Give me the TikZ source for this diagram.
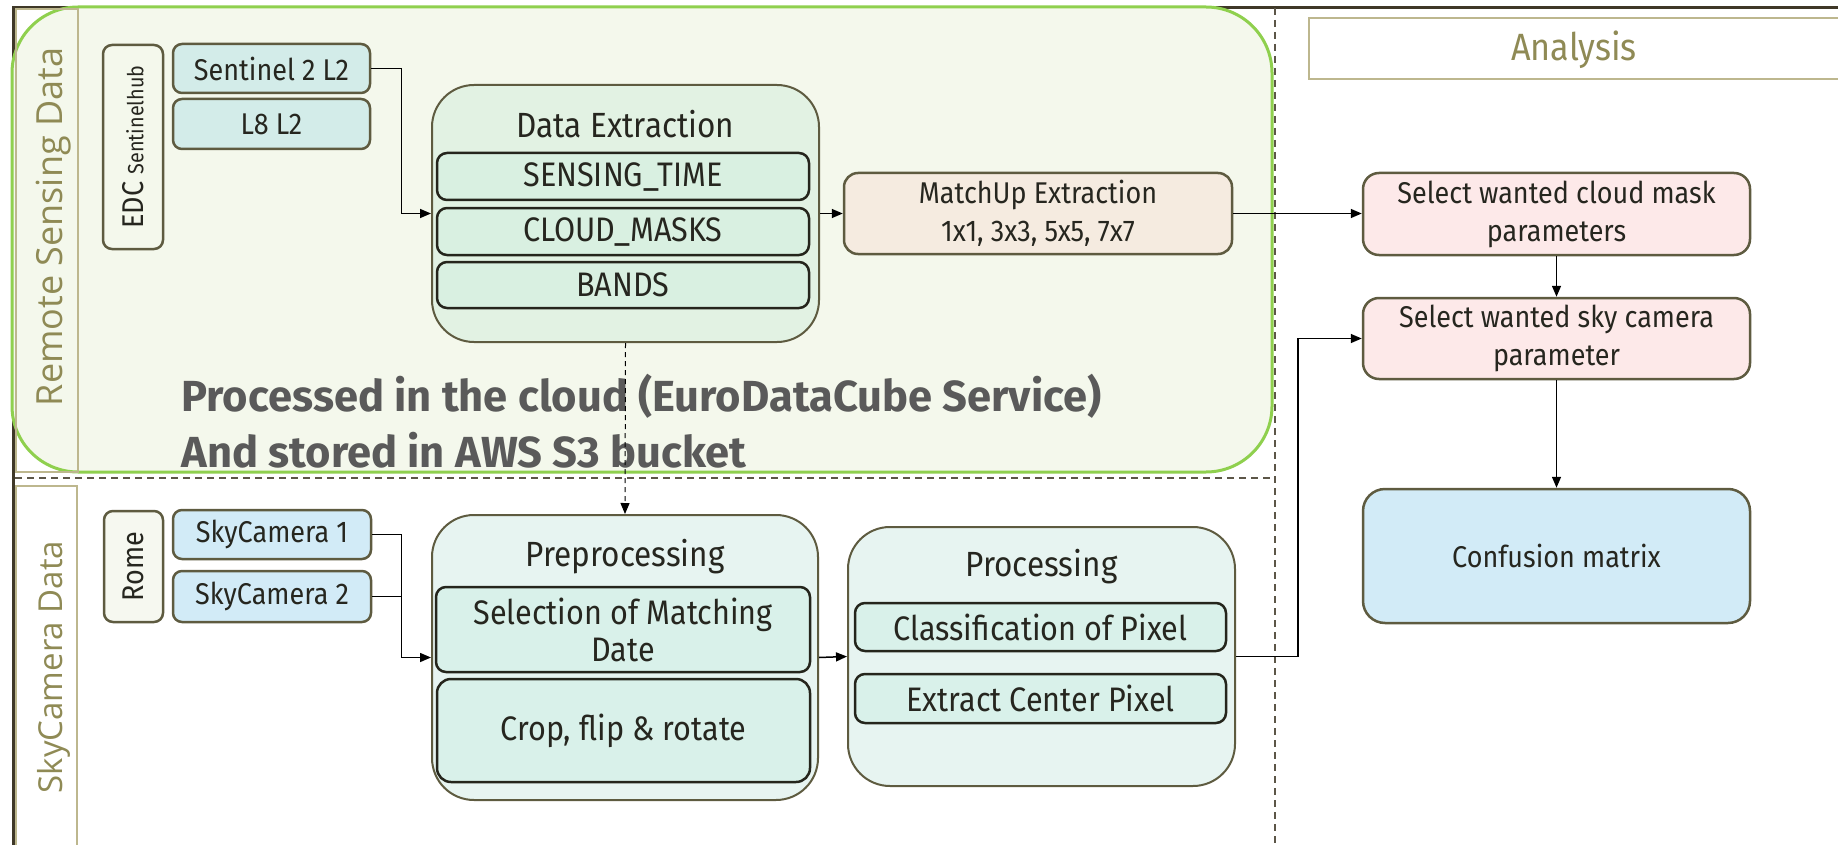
\documentclass[tikz,border=0pt]{standalone}
\usepackage{fontspec}
\setmainfont{Fira Sans}
\newfontfamily\boxfont[FakeStretch=0.9]{Fira Sans}
\newfontfamily\lanefont{Open Sans}
\usetikzlibrary{arrows.meta,positioning,calc}
\definecolor{framedark}{HTML}{3F3828}
\definecolor{laneline}{HTML}{BDB78E}
\definecolor{lanetext}{HTML}{8F8A55}
\definecolor{cloudline}{HTML}{8FD04E}
\definecolor{cloudfill}{HTML}{F4F8EC}
\definecolor{boxline}{HTML}{5E5B40}
\definecolor{itemline}{HTML}{25251C}
\definecolor{txt}{HTML}{26261F}
\definecolor{note}{HTML}{5A5A5A}
\definecolor{satfill}{HTML}{D3ECE9}
\definecolor{camfill}{HTML}{D2EBF7}
\definecolor{extfill}{HTML}{E2F2E3}
\definecolor{extitem}{HTML}{D9F0E1}
\definecolor{prefill}{HTML}{E7F4F1}
\definecolor{preitem}{HTML}{D9F1EA}
\definecolor{matchfill}{HTML}{F5EBE0}
\definecolor{pickfill}{HTML}{FDE9E9}
\definecolor{sitefill}{HTML}{F6F8F0}
\tikzset{
  lane/.style={draw=laneline, line width=1.5pt, inner sep=0pt},
  lanetitle/.style={text=lanetext, rotate=90, font=\lanefont\fontsize{34}{34}\selectfont},
  src/.style={draw=boxline, line width=2.5pt, rounded corners=9pt, inner sep=0pt,
    text=txt, font=\boxfont\fontsize{30}{38}\selectfont},
  stage/.style={draw=boxline, line width=2pt, rounded corners=42pt, inner sep=0pt},
  title/.style={text=txt, font=\boxfont\fontsize{35}{35}\selectfont},
  item/.style={draw=itemline, line width=2.5pt, rounded corners=10pt, inner sep=0pt,
    text=txt, align=center, font=\boxfont\fontsize{34}{37}\selectfont},
  pick/.style={src, fill=pickfill, align=center, minimum width=387pt, rounded corners=16pt},
  flow/.style={-{Triangle[length=11pt,width=9pt]}, line width=1.5pt},
  sep/.style={draw=framedark!85, line width=1.5pt, dash pattern=on 7pt off 5pt},
}

\begin{document}
\begin{tikzpicture}[x=1pt,y=-1pt]
  \useasboundingbox (0,0) rectangle (1838,845);
  \draw[framedark, line width=3pt] (13,847) -- (13,8) -- (1840,8);
  \draw[draw=cloudline, fill=cloudfill, line width=3pt, rounded corners=66pt] (12,7) rectangle (1272,472);
  \draw[sep] (1275,8) -- (1275,847);
  \draw[sep] (15,478) -- (1275,478);

  % lanes
  \node[lane, minimum width=62pt, minimum height=463pt] (rslane) at (47,240.5) {};
  \node[lanetitle, font=\lanefont\fontsize{36}{36}\selectfont] (rstitle) at (54,227) {Remote Sensing Data};
  \node[lane, minimum width=61pt, minimum height=362pt] (sclane) at (46.5,667) {};
  \node[lanetitle, font=\lanefont\fontsize{33}{33}\selectfont] (sctitle) at (54,667) {SkyCamera Data};
  \node[lane, minimum width=533pt, minimum height=61pt] (anlane) at (1575.5,48.5) {};
  \node[text=lanetext, font=\boxfont\fontsize{38}{38}\selectfont] (antitle) at (1574,50) {Analysis};

  % sources
  \node[src, fill=cloudfill, rotate=90, minimum width=204pt, minimum height=60pt] (edc) at (133,147)
    {EDC {\fontsize{22}{22}\selectfont Sentinelhub}};
  \node[src, fill=satfill, minimum width=197pt, minimum height=49pt] (s2) at (271.5,68.5) {Sentinel 2 L2};
  \node[src, fill=satfill, minimum width=197pt, minimum height=50pt] (l8) at (271.5,124) {L8 L2};
  \node[src, fill=sitefill, rotate=90, minimum width=111pt, minimum height=59pt] (rome) at (133.5,566.5) {Rome};
  \node[src, fill=camfill, minimum width=198pt, minimum height=49pt] (sc1) at (272,534.5) {SkyCamera 1};
  \node[src, fill=camfill, minimum width=198pt, minimum height=51pt] (sc2) at (272,596.5) {SkyCamera 2};

  % data extraction
  \node[stage, fill=extfill, minimum width=387pt, minimum height=257pt] (dext) at (625.5,213.5) {};
  \node[title] (dexttitle) at ($(dext.north)+(0,40)$) {Data Extraction};
  \node[item, fill=extitem, minimum width=372pt, minimum height=47pt] (stime) at (623,176.5) {SENSING\_TIME};
  \node[item, fill=extitem, minimum width=372pt, minimum height=47pt] (cmasks) at (623,231.5) {CLOUD\_MASKS};
  \node[item, fill=extitem, minimum width=372pt, minimum height=46pt] (bands) at (623,285) {BANDS};
  \node[src, fill=matchfill, align=center, minimum width=388pt, minimum height=81pt, rounded corners=14pt] (match) at (1038,213.5)
    {MatchUp Extraction\\1x1, 3x3, 5x5, 7x7};

  \node[text=note, align=left, anchor=west, font=\bfseries\fontsize{43.5}{56}\selectfont] (cloudnote) at (178,421)
    {Processed in the cloud (EuroDataCube Service)\\And stored in AWS S3 bucket};

  % sky camera processing
  \node[stage, fill=prefill, minimum width=386pt, minimum height=285pt] (prep) at (625,657.5) {};
  \node[title] (preptitle) at ($(prep.north)+(0,43)$) {Preprocessing};
  \node[item, fill=preitem, minimum width=374pt, minimum height=85pt] (selm) at (623,629.5) {Selection of Matching\\Date};
  \node[item, fill=preitem, minimum width=373pt, minimum height=103pt, rounded corners=14pt] (crop) at (623.5,730.5) {Crop, flip \& rotate};
  \node[stage, fill=prefill, minimum width=387pt, minimum height=259pt] (proc) at (1041.5,656.5) {};
  \node[title] (proctitle) at ($(proc.north)+(0,41)$) {Processing};
  \node[item, fill=preitem, minimum width=371pt, minimum height=48pt] (clsp) at (1040.5,627) {Classification of Pixel};
  \node[item, fill=preitem, minimum width=371pt, minimum height=49pt] (extc) at (1040.5,698.5) {Extract Center Pixel};

  % analysis
  \node[pick, minimum height=82pt] (cmsel) at (1556.5,214) {Select wanted cloud mask\\parameters};
  \node[pick, minimum height=81pt] (skysel) at (1556.5,338.5) {Select wanted sky camera\\parameter};
  \node[src, fill=camfill, minimum width=387pt, minimum height=134pt, rounded corners=22pt] (conf) at (1556.5,556) {Confusion matrix};

  % connectors
  \draw[flow] (s2.east) -- ++(30,0) |- (dext.west);
  \draw[flow] (dext.east) -- (match.west);
  \draw[flow] (match.east) -- (match.east -| cmsel.west);
  \draw[flow] (cmsel.south) -- (skysel.north);
  \draw[flow] (skysel.south) -- (conf.north);
  \draw[flow] (sc1.east) -- ++(29,0) |- (prep.west);
  \draw[line width=1.5pt] (sc2.east) -- ++(29,0);
  \draw[flow] (prep.east) -- (proc.west);
  \draw[flow] (proc.east) -- ++(62,0) |- (skysel.west);
  \draw[flow, line width=1pt, dash pattern=on 5pt off 4pt] (dext.south) -- (prep.north);
\end{tikzpicture}
\end{document}
